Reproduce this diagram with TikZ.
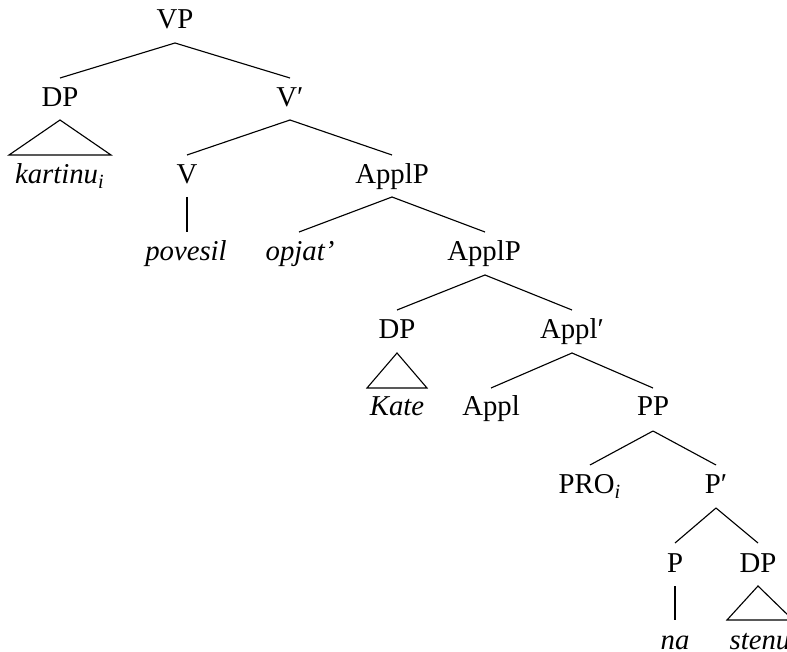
\documentclass[tikz,border=0pt]{standalone}
\usepackage{fontspec}
\setmainfont{Liberation Serif}
\begin{document}
\begin{tikzpicture}[x=0.4pt,y=-0.4pt,
  lab/.style={anchor=base,inner sep=0pt,font=\fontsize{11.5}{13}\selectfont},
  edge/.style={line width=0.45pt}]
\useasboundingbox (0,0) rectangle (787,652);
\clip (0,0) rectangle (787,652);
% nodes (anchor base at baseline)
\node[lab] (vp) at (175,29) {VP};
\node[lab] (dp1) at (60,107) {DP};
\node[lab] (vbar) at (290,107) {V′};
\node[lab] (kart) at (60,184) {\textit{kartinu}\textsubscript{\textit{i}}};
\node[lab] (v) at (187,184) {V};
\node[lab] (applp1) at (392,184) {ApplP};
\node[lab] (pov) at (186,261) {\textit{povesil}};
\node[lab] (opj) at (300,261) {\textit{opjat’}};
\node[lab] (applp2) at (484,261) {ApplP};
\node[lab] (dp2) at (397,339) {DP};
\node[lab] (applbar) at (572,339) {Appl′};
\node[lab] (kate) at (397,416) {\textit{Kate}};
\node[lab] (appl) at (491,416) {Appl};
\node[lab] (pp) at (653,416) {PP};
\node[lab] (pro) at (590,494) {PRO\textsubscript{\textit{i}}};
\node[lab] (pbar) at (716,494) {P′};
\node[lab] (p) at (675,572) {P};
\node[lab] (dp3) at (758,572) {DP};
\node[lab] (na) at (675,649) {\textit{na}};
\node[lab] (stenu) at (760,649) {\textit{stenu}};
% connectors: from parent (baseline+14) to child (baseline-29)
\draw[edge] ([yshift=-14*0.4pt]vp.base) -- ([yshift=29*0.4pt]dp1.base);
\draw[edge] ([yshift=-14*0.4pt]vp.base) -- ([yshift=29*0.4pt]vbar.base);
\draw[edge] ([yshift=-13*0.4pt]dp1.base) -- ([shift={(-51*0.4pt,29*0.4pt)}]kart.base) -- ([shift={(51*0.4pt,29*0.4pt)}]kart.base) -- cycle;
\draw[edge] ([yshift=-13*0.4pt]vbar.base) -- ([yshift=29*0.4pt]v.base);
\draw[edge] ([yshift=-13*0.4pt]vbar.base) -- ([yshift=29*0.4pt]applp1.base);
\draw[edge] ([yshift=-13*0.4pt]v.base) -- ([shift={(1*0.4pt,29*0.4pt)}]pov.base);
\draw[edge] ([yshift=-13*0.4pt]applp1.base) -- ([shift={(-1*0.4pt,29*0.4pt)}]opj.base);
\draw[edge] ([yshift=-13*0.4pt]applp1.base) -- ([shift={(1*0.4pt,29*0.4pt)}]applp2.base);
\draw[edge] ([shift={(1*0.4pt,-14*0.4pt)}]applp2.base) -- ([yshift=29*0.4pt]dp2.base);
\draw[edge] ([shift={(1*0.4pt,-14*0.4pt)}]applp2.base) -- ([yshift=29*0.4pt]applbar.base);
\draw[edge] ([yshift=-14*0.4pt]dp2.base) -- ([shift={(-30*0.4pt,28*0.4pt)}]kate.base) -- ([shift={(30*0.4pt,28*0.4pt)}]kate.base) -- cycle;
\draw[edge] ([yshift=-14*0.4pt]applbar.base) -- ([yshift=28*0.4pt]appl.base);
\draw[edge] ([yshift=-14*0.4pt]applbar.base) -- ([yshift=28*0.4pt]pp.base);
\draw[edge] ([yshift=-15*0.4pt]pp.base) -- ([yshift=29*0.4pt]pro.base);
\draw[edge] ([yshift=-15*0.4pt]pp.base) -- ([yshift=29*0.4pt]pbar.base);
\draw[edge] ([yshift=-14*0.4pt]pbar.base) -- ([yshift=29*0.4pt]p.base);
\draw[edge] ([yshift=-14*0.4pt]pbar.base) -- ([yshift=29*0.4pt]dp3.base);
\draw[edge] ([yshift=-14*0.4pt]p.base) -- ([yshift=29*0.4pt]na.base);
\draw[edge] ([yshift=-14*0.4pt]dp3.base) -- ([shift={(-33*0.4pt,29*0.4pt)}]stenu.base) -- ([shift={(33*0.4pt,29*0.4pt)}]stenu.base) -- cycle;
\end{tikzpicture}
\end{document}
